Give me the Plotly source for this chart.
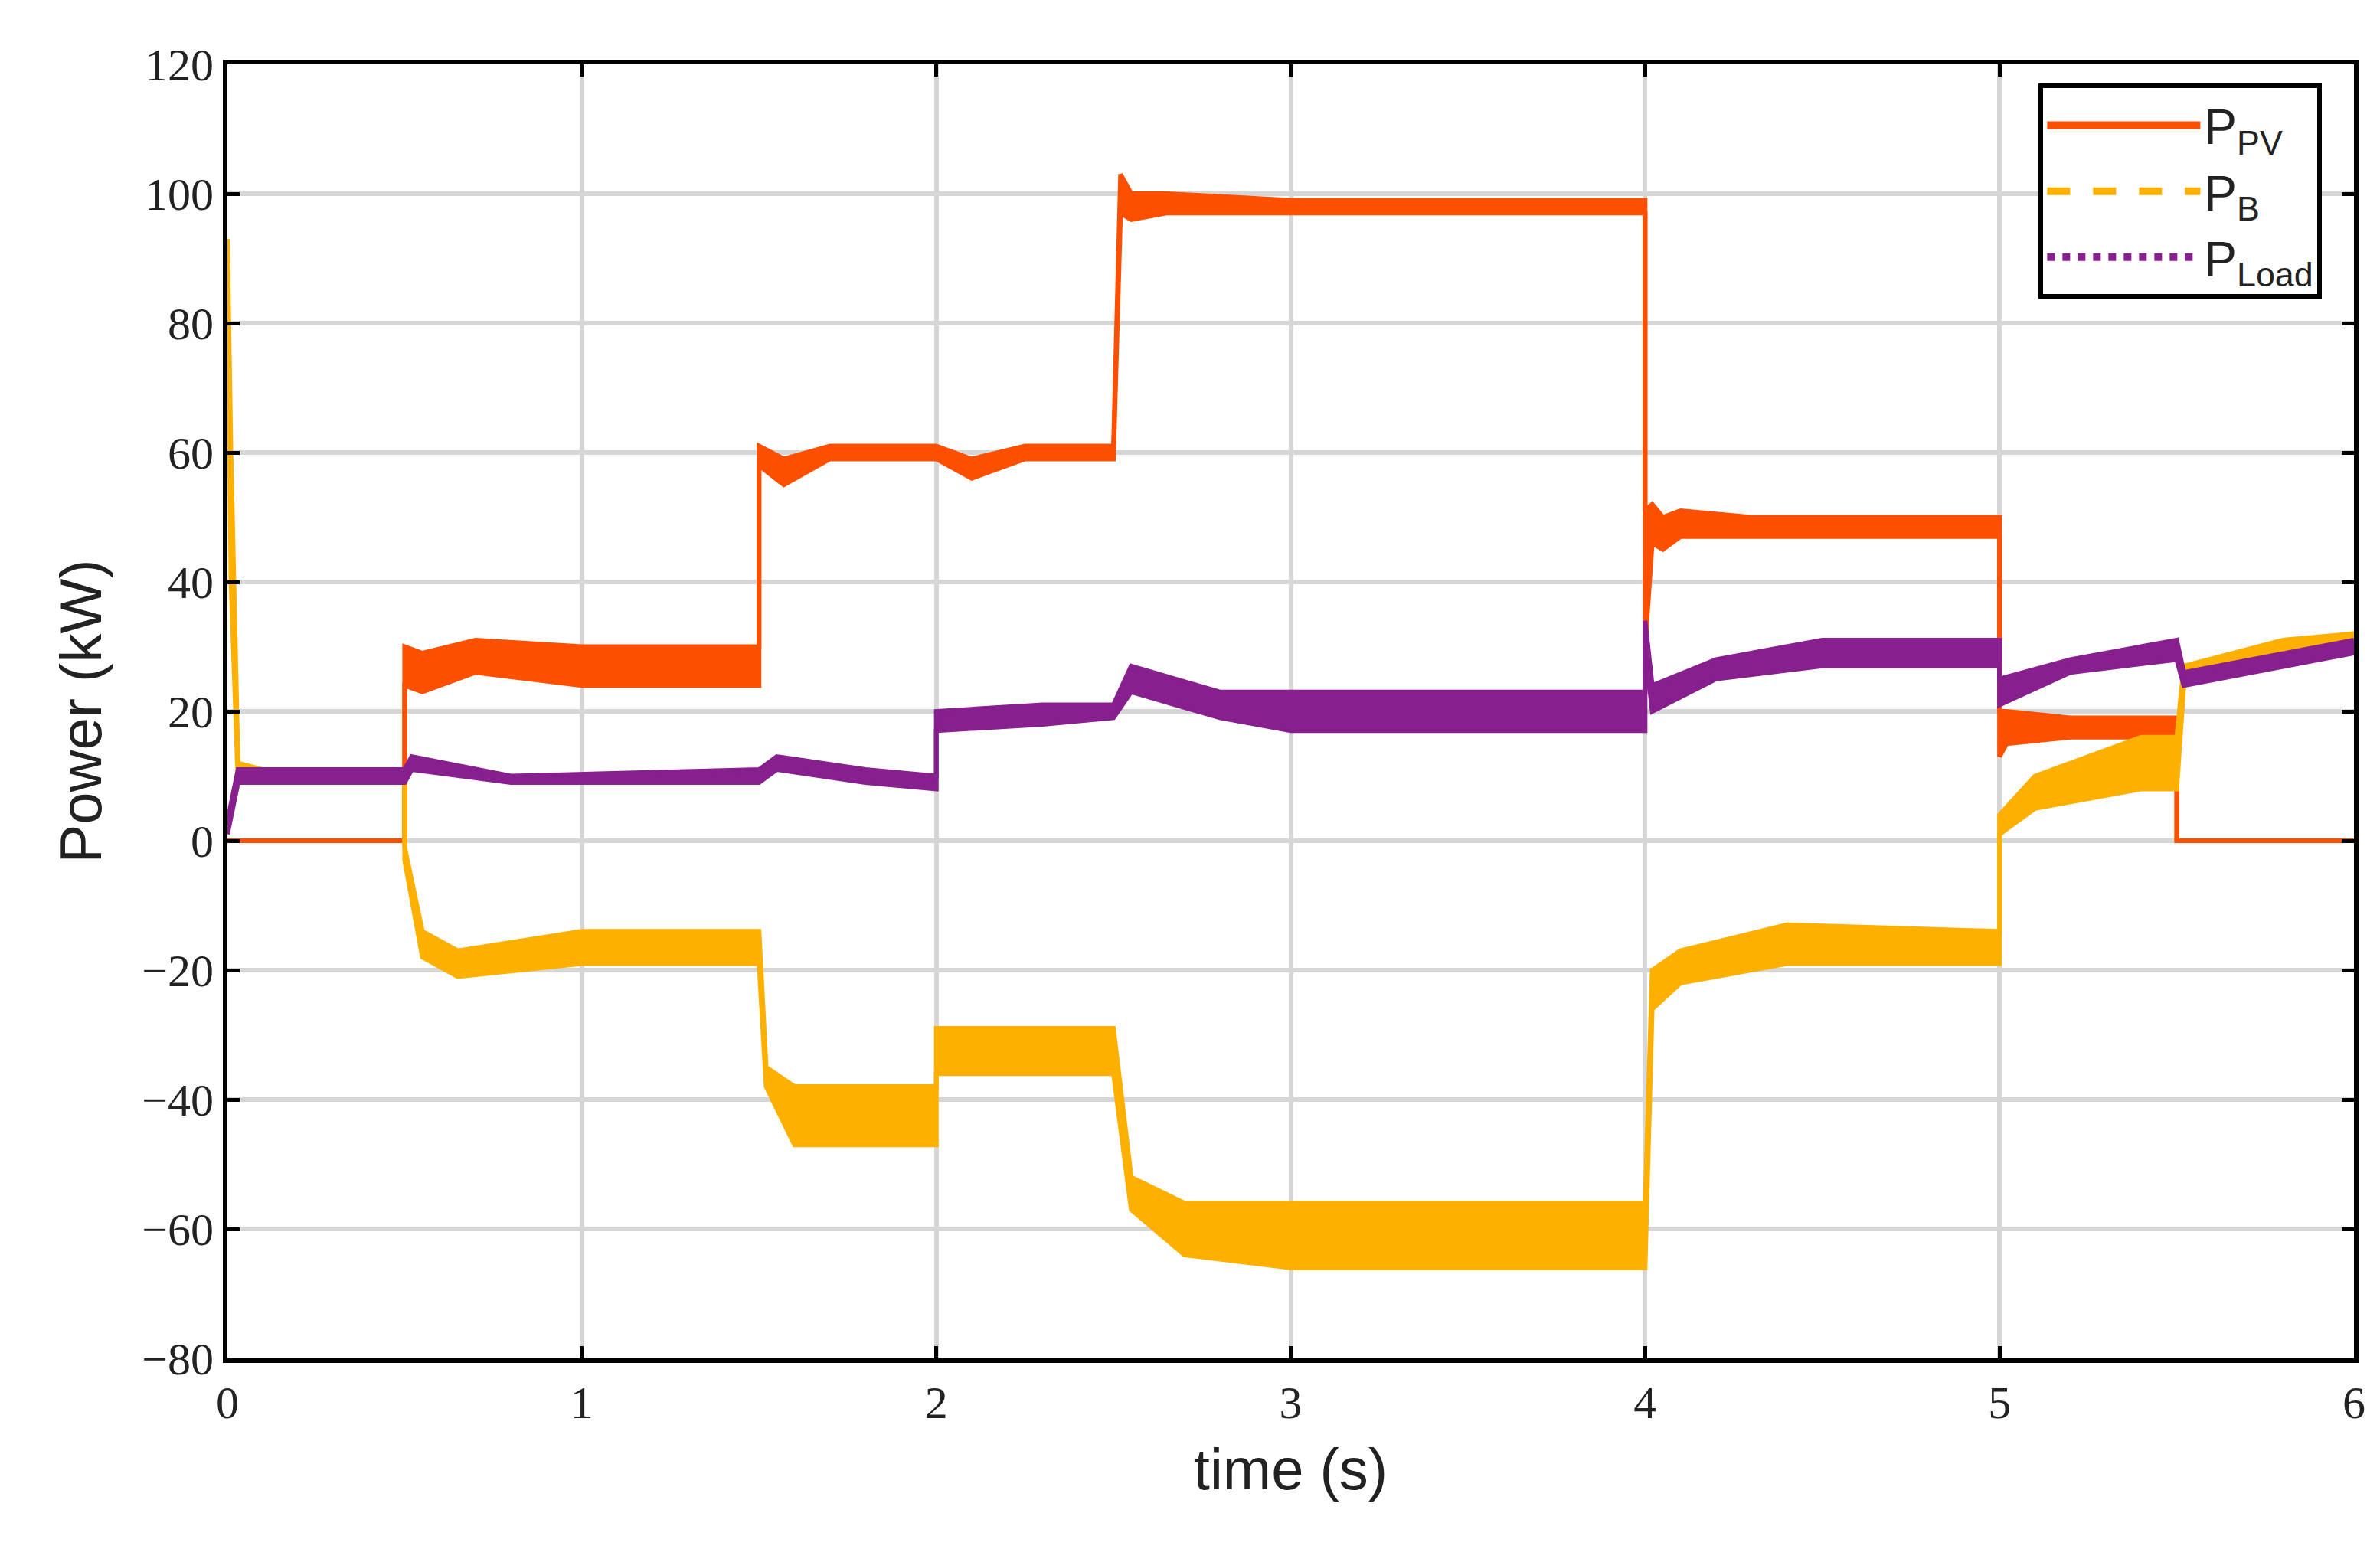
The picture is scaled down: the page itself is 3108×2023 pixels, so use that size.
import plotly.graph_objects as go

# breakpoints (s) with lower / upper edge of each noisy trace (kW)
pv_t = [0, 0.5, 0.5, 0.55, 0.7, 1.0, 1.5, 1.5, 1.57, 1.7, 2.0, 2.1, 2.25, 2.5, 2.52, 2.55, 2.65, 3.0, 3.5, 4.0, 4.0, 4.02, 4.05, 4.1, 4.3, 5.0, 5.0, 5.02, 5.2, 5.5, 5.5, 6.0]
pv_lo = [0, 0, 24, 23, 26, 24, 24, 58, 55, 59, 59, 56, 59, 59, 97, 96, 97, 97, 97, 97, 30, 46, 45, 47, 47, 47, 13, 15, 16, 16, 0, 0]
pv_hi = [0, 0, 30, 29, 31, 30, 30, 61, 59, 61, 61, 59, 61, 61, 103, 100, 100, 99, 99, 99, 51, 52, 50, 51, 50, 50, 20, 20, 19, 19, 0, 0]

b_t = [0, 0.01, 0.03, 0.1, 0.5, 0.5, 0.55, 0.65, 1.0, 1.5, 1.52, 1.6, 2.0, 2.0, 2.5, 2.55, 2.7, 3.0, 4.0, 4.02, 4.1, 4.4, 5.0, 5.0, 5.1, 5.4, 5.5, 5.52, 5.8, 6.0]
b_lo = [90, 40, 9, 9, 9, -3, -18, -21, -19, -19, -38, -47, -47, -36, -36, -57, -64, -66, -66, -26, -22, -19, -19, 1, 5, 8, 8, 24, 29, 30]
b_hi = [93, 60, 12, 11, 11, -1, -14, -17, -14, -14, -35, -38, -38, -29, -29, -52, -56, -56, -56, -20, -17, -13, -14, 4, 10, 16, 16, 27, 31, 32]

l_t = [0, 0.03, 0.5, 0.52, 0.8, 1.5, 1.55, 1.8, 2.0, 2.0, 2.3, 2.5, 2.55, 2.8, 3.0, 4.0, 4.0, 4.02, 4.2, 4.5, 5.0, 5.0, 5.2, 5.5, 5.52, 5.8, 6.0]
l_lo = [1, 9, 9, 11, 9, 9, 11, 9, 8, 17, 18, 19, 23, 19, 17, 17, 30, 20, 25, 27, 27, 21, 26, 28, 24, 27, 29]
l_hi = [3, 11, 11, 13, 10, 11, 13, 11, 10, 20, 21, 21, 27, 23, 23, 23, 34, 24, 28, 31, 31, 25, 28, 31, 26, 29, 31]

series = [
    ("P<sub>PV</sub>", pv_t, pv_lo, pv_hi, "#fc5000", "solid"),
    ("P<sub>B</sub>", b_t, b_lo, b_hi, "#fdb000", "dash"),
    ("P<sub>Load</sub>", l_t, l_lo, l_hi, "#87208e", "dot"),
]

fig = go.Figure()
for name, t, lo, hi, col, dash in series:
    fig.add_trace(go.Scatter(x=t, y=lo, mode="lines", line=dict(color=col, width=6),
                             showlegend=False, hoverinfo="skip"))
    fig.add_trace(go.Scatter(x=t, y=hi, mode="lines", line=dict(color=col, width=6),
                             fill="tonexty", fillcolor=col, showlegend=False, hoverinfo="skip"))
    fig.add_trace(go.Scatter(x=[None], y=[None], mode="lines", name=name,
                             line=dict(color=col, width=12, dash=dash)))

axis = dict(showline=True, linecolor="black", linewidth=6, mirror="ticks",
            ticks="inside", ticklen=16, tickwidth=5, tickcolor="black",
            showgrid=True, gridcolor="#d6d6d6", gridwidth=6, zeroline=False,
            tickfont=dict(family="Liberation Serif", size=60, color="#222"))

fig.update_layout(
    width=3108, height=2023,
    margin=dict(l=289, r=42, t=76, b=257),
    plot_bgcolor="white", paper_bgcolor="white",
    xaxis=dict(axis, range=[0, 6], dtick=1,
               title=dict(text="time (s)", standoff=30,
                          font=dict(family="Liberation Sans", size=76, color="#222"))),
    yaxis=dict(axis, range=[-80, 120], dtick=20,
               title=dict(text="Power (kW)", standoff=30,
                          font=dict(family="Liberation Sans", size=76, color="#222"))),
    legend=dict(x=0.985, y=0.985, xanchor="right", yanchor="top", traceorder="normal",
                bordercolor="black", borderwidth=6, bgcolor="white", itemwidth=200,
                font=dict(family="Liberation Sans", size=64, color="#222")),
)
fig.update_yaxes(ticktext=["\u221280", "\u221260", "\u221240", "\u221220", "0", "20", "40", "60", "80", "100", "120"],
                 tickvals=list(range(-80, 121, 20)))

fig.write_html("out.html")
